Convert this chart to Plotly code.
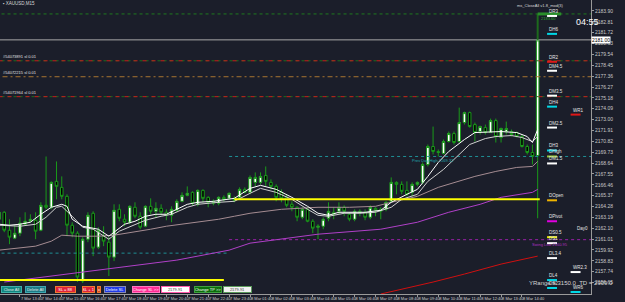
import plotly.graph_objects as go

# ---------------- data ----------------
opens = [2163.0, 2163.7, 2161.9, 2161.1, 2161.6, 2162.5, 2162.8, 2162.9, 2161.9, 2164.4,
         2164.2, 2166.8, 2166.2, 2165.3, 2162.4, 2161.6, 2156.8, 2161.0, 2163.6, 2160.2,
         2161.3, 2160.7, 2159.2, 2164.0, 2163.0, 2162.7, 2164.2, 2163.3, 2162.3, 2164.3,
         2163.8, 2164.1, 2163.7, 2163.4, 2163.9, 2164.8, 2165.4, 2165.7, 2164.5, 2165.9,
         2165.2, 2164.8, 2164.6, 2165.2, 2165.1, 2165.1, 2165.2, 2166.0, 2165.7, 2166.7,
         2166.7, 2167.4, 2166.7, 2166.3, 2165.7, 2165.2, 2164.5, 2164.2, 2163.2, 2164.0,
         2162.8, 2162.2, 2162.3, 2163.1, 2163.7, 2163.8, 2164.2, 2163.5, 2163.0, 2163.8,
         2163.7, 2163.2, 2164.1, 2164.0, 2164.0, 2164.8, 2166.7, 2166.5, 2165.9, 2165.7,
         2166.5, 2166.7, 2168.5, 2170.3, 2169.8, 2169.6, 2170.8, 2171.6, 2170.8, 2172.7,
         2173.7, 2172.5, 2171.8, 2172.2, 2171.7, 2172.9, 2171.2, 2171.8, 2171.8, 2171.7,
         2171.3, 2170.3, 2169.7, 2169.4]
highs = [2163.9, 2163.8, 2163.0, 2162.4, 2163.2, 2163.7, 2163.5, 2163.7, 2164.7, 2169.3,
         2166.8, 2168.8, 2167.3, 2165.5, 2162.7, 2161.8, 2161.2, 2163.7, 2163.8, 2162.2,
         2162.3, 2161.2, 2164.5, 2164.5, 2163.5, 2164.4, 2164.7, 2163.7, 2164.4, 2165.1,
         2164.7, 2164.5, 2164.0, 2164.3, 2165.0, 2165.7, 2166.3, 2165.8, 2166.0, 2166.0,
         2165.3, 2165.0, 2165.3, 2165.4, 2165.7, 2165.3, 2166.2, 2166.2, 2167.4, 2167.7,
         2167.7, 2168.3, 2167.0, 2166.5, 2166.0, 2165.5, 2164.8, 2164.3, 2164.2, 2164.2,
         2163.0, 2162.5, 2163.2, 2164.7, 2164.2, 2164.7, 2164.4, 2163.7, 2164.0, 2164.0,
         2164.0, 2164.4, 2164.2, 2164.2, 2164.8, 2167.2, 2166.8, 2166.8, 2166.8, 2166.7,
         2166.8, 2168.7, 2170.5, 2172.3, 2170.0, 2171.0, 2171.8, 2171.8, 2174.2, 2173.8,
         2173.8, 2172.7, 2172.4, 2172.5, 2173.1, 2173.1, 2172.2, 2172.8, 2172.0, 2171.8,
         2171.5, 2170.5, 2170.5, 2181.0]
lows = [2162.8, 2161.7, 2160.5, 2161.0, 2161.3, 2162.4, 2162.7, 2161.0, 2161.8, 2164.0,
        2164.0, 2165.0, 2165.0, 2161.3, 2161.2, 2156.7, 2156.6, 2160.7, 2159.3, 2160.0,
        2160.3, 2157.3, 2158.8, 2162.8, 2162.3, 2162.5, 2163.1, 2162.0, 2162.2, 2163.5,
        2163.2, 2163.4, 2162.9, 2162.7, 2163.7, 2164.7, 2165.3, 2164.4, 2164.3, 2164.7,
        2164.2, 2164.4, 2164.4, 2164.8, 2165.0, 2164.7, 2165.0, 2165.6, 2165.5, 2166.3,
        2166.5, 2166.3, 2166.0, 2164.8, 2164.7, 2164.2, 2163.8, 2162.8, 2163.0, 2162.7,
        2161.6, 2161.0, 2162.0, 2162.8, 2163.0, 2163.5, 2163.3, 2162.8, 2162.8, 2163.3,
        2162.9, 2163.0, 2163.3, 2163.0, 2163.8, 2164.7, 2165.5, 2165.5, 2165.3, 2165.3,
        2166.3, 2166.5, 2168.3, 2169.5, 2169.3, 2169.5, 2170.7, 2170.5, 2170.7, 2172.5,
        2172.2, 2170.8, 2171.5, 2171.5, 2171.7, 2170.7, 2170.7, 2171.5, 2171.3, 2171.2,
        2170.2, 2169.5, 2168.5, 2163.1]
closes = [2163.7, 2161.9, 2161.2, 2161.6, 2162.6, 2162.8, 2163.0, 2161.8, 2164.4, 2164.2,
          2166.7, 2166.3, 2165.3, 2162.4, 2161.6, 2157.2, 2161.0, 2163.4, 2160.1, 2161.9,
          2160.8, 2159.2, 2163.9, 2163.1, 2162.7, 2164.3, 2163.3, 2162.2, 2164.3, 2163.8,
          2164.1, 2163.7, 2163.4, 2164.0, 2164.8, 2165.4, 2165.6, 2164.6, 2165.9, 2165.1,
          2164.7, 2164.6, 2165.2, 2165.0, 2165.6, 2164.9, 2166.0, 2165.7, 2167.2, 2167.2,
          2167.3, 2166.8, 2166.3, 2165.2, 2165.1, 2164.4, 2164.2, 2163.2, 2164.0, 2162.8,
          2162.1, 2162.3, 2163.0, 2163.8, 2163.5, 2164.2, 2163.8, 2163.0, 2163.8, 2163.7,
          2163.2, 2164.2, 2163.9, 2163.8, 2164.7, 2166.7, 2166.5, 2165.8, 2165.5, 2166.5,
          2166.7, 2168.5, 2170.3, 2169.8, 2169.7, 2170.8, 2171.6, 2170.7, 2172.7, 2173.7,
          2172.3, 2171.7, 2172.3, 2171.7, 2172.9, 2171.3, 2172.1, 2172.1, 2171.5, 2171.3,
          2170.3, 2169.7, 2169.3, 2181.0]
bar_index = list(range(len(opens)))

# moving averages (read at bar positions)
ma_fast_idx = [0, 2, 4, 6, 8, 10, 12, 13, 14, 16, 17, 19, 21, 22, 24, 26, 28, 30, 32, 34, 36, 38, 41, 45, 48,
               50, 53, 56, 59, 61, 63, 65, 67, 70, 73, 75, 78, 80, 82, 84, 86, 89, 91, 94, 96, 99, 101, 102, 103]
ma_fast_val = [2162.5, 2162.4, 2162.5, 2162.7, 2163.5, 2164.2, 2164.5, 2164.3, 2163.0, 2162.3, 2162.2, 2162.0,
               2161.3, 2161.7, 2162.5, 2162.8, 2163.3, 2163.5, 2163.5, 2164.0, 2164.5, 2164.7, 2164.8, 2165.1,
               2166.1, 2166.4, 2166.0, 2165.2, 2164.3, 2163.6, 2163.4, 2163.7, 2163.7, 2163.7, 2163.9, 2164.7,
               2165.5, 2166.0, 2167.3, 2168.7, 2169.8, 2171.0, 2171.7, 2171.8, 2171.8, 2171.7, 2171.3, 2170.7, 2172.0]
ma_mid_idx = [0, 4, 7, 9, 11, 12, 14, 16, 18, 20, 21, 23, 26, 28, 31, 33, 36, 38, 42, 45, 48, 50, 53, 56, 59,
              61, 63, 66, 69, 72, 75, 77, 80, 82, 85, 88, 90, 93, 95, 98, 100, 102, 103]
ma_mid_val = [2162.4, 2162.3, 2162.5, 2163.2, 2164.2, 2164.3, 2163.3, 2162.2, 2162.0, 2161.3, 2161.0, 2161.8,
              2162.5, 2162.9, 2163.3, 2163.5, 2164.2, 2164.5, 2164.7, 2164.8, 2165.6, 2166.1, 2165.7, 2165.0,
              2164.0, 2163.4, 2163.3, 2163.6, 2163.6, 2163.7, 2164.2, 2165.0, 2165.5, 2166.8, 2168.0, 2169.5,
              2170.5, 2171.1, 2171.3, 2171.4, 2171.2, 2170.8, 2171.3]
ma_slow_idx = [0, 7, 10, 12, 15, 19, 22, 26, 29, 32, 35, 38, 42, 45, 48, 54, 61, 67, 72, 75, 80, 84, 88, 91,
               95, 99, 102, 103]
ma_slow_val = [2159.9, 2160.3, 2160.8, 2161.4, 2161.3, 2161.3, 2161.4, 2161.7, 2162.0, 2162.3, 2162.5, 2162.7,
               2163.0, 2163.3, 2163.6, 2164.0, 2164.2, 2164.2, 2164.3, 2164.7, 2165.3, 2166.2, 2166.8, 2167.3,
               2167.8, 2168.2, 2168.3, 2168.8]
ma_purple_idx = [1, 19, 34, 44, 48, 61, 73, 80, 86, 92, 96, 102, 103]
ma_purple_val = [2156.7, 2157.9, 2158.9, 2159.9, 2160.6, 2161.5, 2162.0, 2162.7, 2163.7, 2164.5, 2165.2,
                 2165.7, 2166.0]
ma_red_idx = [73, 83, 89, 96, 103]
ma_red_val = [2155.5, 2156.7, 2157.5, 2158.5, 2159.3]

# x tick labels every 4 bars
x_tick_idx = list(range(0, 101, 4))
x_tick_text = ["7 Mar 2024", "7 Mar 13:40", "7 Mar 14:40", "7 Mar 15:40", "7 Mar 16:40", "7 Mar 17:40",
               "7 Mar 18:40", "7 Mar 19:40", "7 Mar 20:40", "7 Mar 21:40", "7 Mar 22:40", "7 Mar 23:40",
               "8 Mar 01:40", "8 Mar 02:40", "8 Mar 03:40", "8 Mar 04:40", "8 Mar 05:40", "8 Mar 06:40",
               "8 Mar 07:40", "8 Mar 08:40", "8 Mar 09:40", "8 Mar 10:40", "8 Mar 11:40", "8 Mar 12:40",
               "8 Mar 13:40", "8 Mar 14:40"]
y_tick_vals = [2183.90, 2182.81, 2181.72, 2180.63, 2179.54, 2178.45, 2177.36, 2176.27, 2175.18, 2174.09,
               2173.00, 2171.91, 2170.82, 2169.73, 2168.64, 2167.55, 2166.46, 2165.37, 2164.28, 2163.19,
               2162.10, 2161.01, 2159.92, 2158.83, 2157.74, 2156.65]

# horizontal levels
top_green_level = 2183.6
bid_price = 2181.0
order_levels = [2178.9, 2177.3, 2175.3]
order_labels = ["#54073891 sl 0.01", "#54072215 sl 0.01", "#54071964 sl 0.01"]
prev_day_high = 2169.3
yellow_level_now = 2165.0
swing_level = 2160.95
teal_level_old = 2159.6
yellow_level_old = 2156.9

# right-side pivot labels
piv_names = ["DR3", "DH6", "DR2", "DM4.5", "DM3.5", "DH4", "DM2.5", "DH3", "DHigh", "DM1.5",
             "DOpen", "DPivot", "DS0.5", "DS1", "DL3.4", "DL4", "DS2"]
piv_prices = [2183.4, 2181.6, 2178.8, 2177.9, 2175.4, 2174.3, 2172.2, 2169.9, 2169.3, 2168.6,
              2164.9, 2162.8, 2161.2, 2160.6, 2159.1, 2156.9, 2156.1]
piv_colors = ["#ffffff", "#00d8e6", "#e01818", "#ffffff", "#ffffff", "#00d8e6", "#ffffff", "#00d8e6",
              "#9acd32", "#ffffff", "#f0b400", "#e000e0", "#f0f000", "#ffffff", "#ffffff", "#00d8e6", "#00d8e6"]
wk_names = ["WR1", "WR2.3", "WR6"]
wk_prices = [2173.5, 2157.7, 2155.7]
wk_colors = ["#e01818", "#ffffff", "#00d8e6"]

# ---------------- figure ----------------
BG = "#1b1e2a"
FONT = "Liberation Sans"
X0, X1 = 0.19, 113.2
Y0, Y1 = 2155.5, 2185.0
PW, PH = 591.0, 294.0

fig = go.Figure()


def seg(x0, x1, y, color, width=1, dash="solid"):
    fig.add_trace(go.Scatter(x=[x0, x1], y=[y, y], mode="lines",
                             line=dict(color=color, width=width, dash=dash),
                             hoverinfo="skip", showlegend=False))


# background levels
seg(X0 - 2, X1 + 2, top_green_level, "#1f7a1f", 1, "dot")
seg(X0 - 2, X1 + 2, bid_price, "#a8a8a8", 1)
seg(X0 - 2, X1 + 2, order_levels[0], "#1e6e1e", 1, "3px,3px")
seg(X0 - 2, X1 + 2, order_levels[0], "#c81c1c", 1, "4px,5px")
seg(X0 - 2, X1 + 2, order_levels[1], "#a87530", 1, "5px,3px,2px,3px")
seg(X0 - 2, X1 + 2, order_levels[2], "#1e6e1e", 1, "3px,3px")
seg(X0 - 2, X1 + 2, order_levels[2], "#c81c1c", 1, "4px,5px")
seg(44, X1 + 2, prev_day_high, "#1f8f95", 1, "dot")
seg(44, X1 + 2, swing_level, "#9a20a8", 1, "dot")
seg(X0 - 2, 44, teal_level_old, "#1f8f95", 1, "dot")

# candles
fig.add_trace(go.Candlestick(
    x=bar_index, open=opens, high=highs, low=lows, close=closes,
    increasing=dict(fillcolor="#ffffff", line=dict(color="#1a9a1a", width=1)),
    decreasing=dict(fillcolor="#000000", line=dict(color="#1a9a1a", width=1)),
    whiskerwidth=0, hoverinfo="skip", showlegend=False))

# moving averages
for xs, ys, col in [(ma_red_idx, ma_red_val, "#d01010"),
                    (ma_purple_idx, ma_purple_val, "#b040c8"),
                    (ma_slow_idx, ma_slow_val, "#a58c92"),
                    (ma_mid_idx, ma_mid_val, "#cfcfcf"),
                    (ma_fast_idx, ma_fast_val, "#ffffff")]:
    fig.add_trace(go.Scatter(x=xs, y=ys, mode="lines", line=dict(color=col, width=1),
                             hoverinfo="skip", showlegend=False))

# yellow levels
seg(45, 103.4, yellow_level_now, "#ffff00", 2)
seg(X0 - 2, 43, yellow_level_old, "#ffff00", 2)

# green marker above last bar
fig.add_trace(go.Scatter(x=[103, 103], y=[bid_price, top_green_level], mode="lines",
                         line=dict(color="#1d6a1d", width=2), hoverinfo="skip", showlegend=False))
seg(103, 107.5, top_green_level, "#2a8f2a", 3)

# pivot underlines
for p, c in zip(piv_prices, piv_colors):
    seg(104.8, 106.7, p, c, 2)
for p, c in zip(wk_prices, wk_colors):
    seg(109.3, 111.2, p, c, 2)

ann = []
for n, p in zip(piv_names, piv_prices):
    ann.append(dict(x=104.8, y=p, xref="x", yref="y", text=n, showarrow=False, xanchor="left",
                    yanchor="bottom", font=dict(size=4.5, color="#e6e6e6", family=FONT)))
for n, p in zip(wk_names, wk_prices):
    ann.append(dict(x=109.3, y=p, xref="x", yref="y", text=n, showarrow=False, xanchor="left",
                    yanchor="bottom", font=dict(size=4.5, color="#e6e6e6", family=FONT)))
for t, p in zip(order_labels, order_levels):
    ann.append(dict(x=0.3, y=p, xref="x", yref="y", text=t, showarrow=False, xanchor="left",
                    yanchor="bottom", font=dict(size=4, color="#e0e0e0", family=FONT)))

ann.append(dict(x=83, y=prev_day_high, xref="x", yref="y", text="Prev Day High 2169.32", showarrow=False,
                yanchor="top", font=dict(size=4, color="#22a8b0", family=FONT)))
ann.append(dict(x=101.5, y=swing_level, xref="x", yref="y", text="Swing Low 2160.95", showarrow=False,
                xanchor="left", yanchor="top", font=dict(size=4, color="#b030c0", family=FONT)))
ann.append(dict(x=103.3, y=top_green_level, xref="x", yref="y", text="2183.60", showarrow=False,
                xanchor="left", yanchor="top", font=dict(size=4, color="#2fb02f", family=FONT)))

# current price label on axis
ann.append(dict(x=1.0, y=bid_price, xref="paper", yref="y", text=f"{bid_price:.2f}", showarrow=False,
                xanchor="left", yanchor="middle", bgcolor="#ffffff", borderpad=0,
                font=dict(size=5, color="#000000", family=FONT)))
ann.append(dict(x=0.998, y=2161.6, xref="paper", yref="y", text="Day0", showarrow=False,
                xanchor="right", yanchor="bottom", font=dict(size=4.5, color="#e6e6e6", family=FONT)))


def pxx(v):
    return v / PW


def pxy(v):
    return 1 - v / PH


ann.append(dict(x=pxx(1), y=pxy(3), xref="paper", yref="paper", text="\u25aa XAUUSD,M15", showarrow=False,
                xanchor="left", yanchor="middle", font=dict(size=4.5, color="#d8d8d8", family=FONT)))
ann.append(dict(x=pxx(515), y=pxy(5), xref="paper", yref="paper", text="ms_CloseAll v1.8_mod(3)",
                showarrow=False, xanchor="left", yanchor="middle",
                font=dict(size=4, color="#d8d8d8", family=FONT)))
ann.append(dict(x=pxx(601), y=pxy(22), xref="paper", yref="paper", text="04:55", showarrow=False,
                xanchor="right", yanchor="middle", font=dict(size=9, color="#ffffff", family=FONT)))
ann.append(dict(x=pxx(527), y=pxy(283), xref="paper", yref="paper",
                text="YRange = 3150.0&nbsp;&nbsp;TD = 2909.0",
                showarrow=False, xanchor="left", yanchor="middle",
                font=dict(size=6, color="#d4d4d4", family=FONT)))

buttons = [("Close All", 0, 22, "#118680", "#3fb0a8", "#e8e8e8"),
           ("Delete All", 24, 46, "#1b7c86", "#3fa8b0", "#e8e8e8"),
           ("SL = 88", 54, 76, "#e0243a", "#f07a30", "#ffffff"),
           ("SL + 1", 81, 95, "#e0243a", "#f07a30", "#ffffff"),
           ("x", 96, 101, "#d4481e", "#f07a30", "#ffffff"),
           ("Delete SL", 103, 126, "#1f3ae6", "#8a8ab0", "#ffffff"),
           ("Change SL >>", 131, 160, "#ff2a94", "#ff7ac0", "#ffffff"),
           ("2179.91", 160, 190, "#ffffff", "#ff5aaa", "#404040"),
           ("Change TP >>", 193, 222, "#0b6e0b", "#3fa03f", "#ffffff"),
           ("2179.91", 222, 252, "#f2f2f2", "#5a9a5a", "#404040")]
for label, a, b, bg, bd, fc in buttons:
    ann.append(dict(x=pxx((a + b) / 2), y=pxy(289.5), xref="paper", yref="paper", text=label,
                    showarrow=False, xanchor="center", yanchor="middle", width=b - a - 3, height=5,
                    bgcolor=bg, bordercolor=bd, borderwidth=1, borderpad=0,
                    font=dict(size=4, color=fc, family=FONT)))

fig.update_layout(
    width=625, height=302,
    margin=dict(l=0, r=34, t=0, b=8),
    paper_bgcolor=BG, plot_bgcolor=BG,
    showlegend=False,
    annotations=ann,
    xaxis=dict(range=[X0, X1], showgrid=False, zeroline=False, showline=True, linecolor="#9a9a9a",
               linewidth=1, tickvals=x_tick_idx, ticktext=x_tick_text, ticks="outside", ticklen=2,
               tickcolor="#9a9a9a", ticklabelposition="outside right", tickangle=0, automargin=False,
               tickfont=dict(size=4, color="#d0d0d0", family=FONT),
               rangeslider=dict(visible=False), fixedrange=True),
    yaxis=dict(range=[Y0, Y1], side="right", showgrid=False, zeroline=False, showline=True,
               linecolor="#9a9a9a", linewidth=1, tickvals=y_tick_vals, automargin=False,
               ticktext=[f"{v:.2f}" for v in y_tick_vals], ticks="outside", ticklen=2,
               tickcolor="#9a9a9a", tickfont=dict(size=5, color="#c8c8c8", family=FONT), fixedrange=True),
)

fig.write_html("out.html")
